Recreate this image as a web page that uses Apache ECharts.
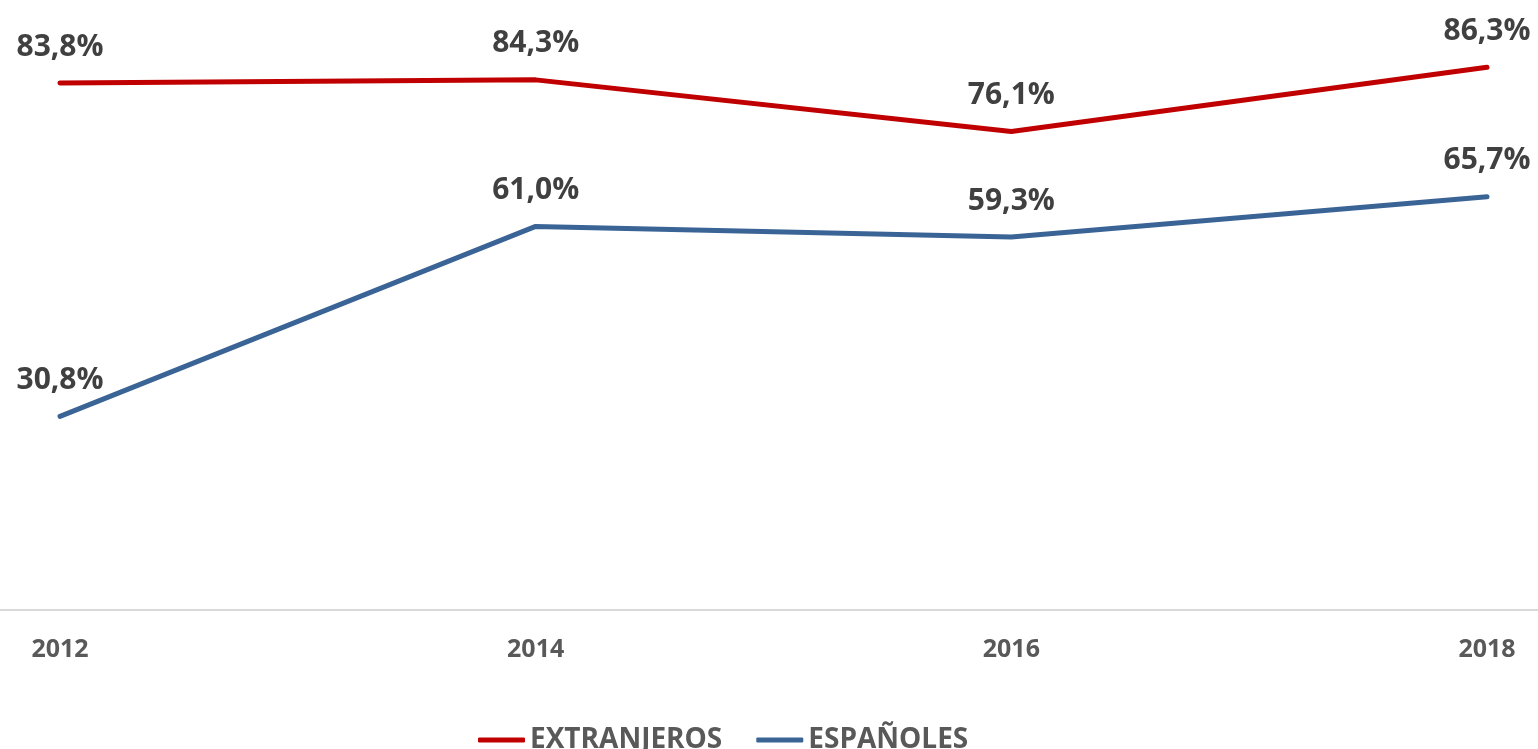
<!DOCTYPE html>
<html>
<head>
<meta charset="utf-8">
<script src="https://cdn.jsdelivr.net/npm/echarts@6/dist/echarts.min.js"></script>
<style>
  html, body { margin: 0; padding: 0; background: #fff; }
  #chart { width: 1538px; height: 749px; }
</style>
</head>
<body>
<div id="chart"></div>
<script>
// data
const years = ['2012', '2014', '2016', '2018']
const extranjeros = [83.8, 84.3, 76.1, 86.3]
const espanoles = [30.8, 61.0, 59.3, 65.7]
const seriesNames = ['EXTRANJEROS', 'ESPAÑOLES']

const FONT = '"Open Sans", sans-serif'
const RED = '#c00000'
const BLUE = '#3b6496'

//format like excel, with comma decimal
const pct = v => v.toFixed(1).replace('.', ',') + '%'

function lineSeries(name, data, color) {
    return {
        name: name,
        type: 'line',
        data: data,
        //labels need a symbol, so keep one of size 0
        symbol: 'circle',
        symbolSize: 0,
        showSymbol: true,
        lineStyle: { color: color, width: 5, cap: 'round' },
        itemStyle: { color: color },
        label: {
            show: true,
            position: 'top',
            distance: 21,
            formatter: p => pct(p.value),
            fontFamily: FONT,
            fontWeight: 'bold',
            fontSize: 30,
            color: '#404040'
        }
    }
}

const chart = echarts.init(document.getElementById('chart'))

chart.setOption({
    animation: false,
    backgroundColor: '#fff',
    grid: [
        { left: 60, right: 51, top: 0, bottom: 139 },
        //full width grid only used for the horizontal axis line
        { left: 0, right: 0, top: 0, bottom: 139 }
    ],
    xAxis: [
        {
            type: 'category',
            gridIndex: 0,
            data: years,
            boundaryGap: false,
            axisLine: { show: false },
            axisTick: { show: false },
            axisLabel: {
                margin: 27,
                fontFamily: FONT,
                fontWeight: 'bold',
                fontSize: 25,
                color: '#595959'
            }
        },
        {
            type: 'category',
            gridIndex: 1,
            data: years,
            axisLine: { show: true, lineStyle: { color: '#d9d9d9', width: 2 } },
            axisTick: { show: false },
            axisLabel: { show: false }
        }
    ],
    yAxis: [
        { type: 'value', gridIndex: 0, min: 0, max: 97, show: false },
        { type: 'value', gridIndex: 1, min: 0, max: 97, show: false }
    ],
    legend: {
        left: 478,
        bottom: -5,
        padding: 0,
        icon: 'roundRect',
        itemWidth: 47,
        itemHeight: 5,
        itemGap: 34,
        itemTextGap: 7,
        textStyle: {
            fontFamily: FONT,
            fontWeight: 'bold',
            fontSize: 28,
            color: '#595959'
        },
        data: seriesNames
    },
    series: [
        lineSeries(seriesNames[0], extranjeros, RED),
        lineSeries(seriesNames[1], espanoles, BLUE)
    ]
})
</script>
</body>
</html>
